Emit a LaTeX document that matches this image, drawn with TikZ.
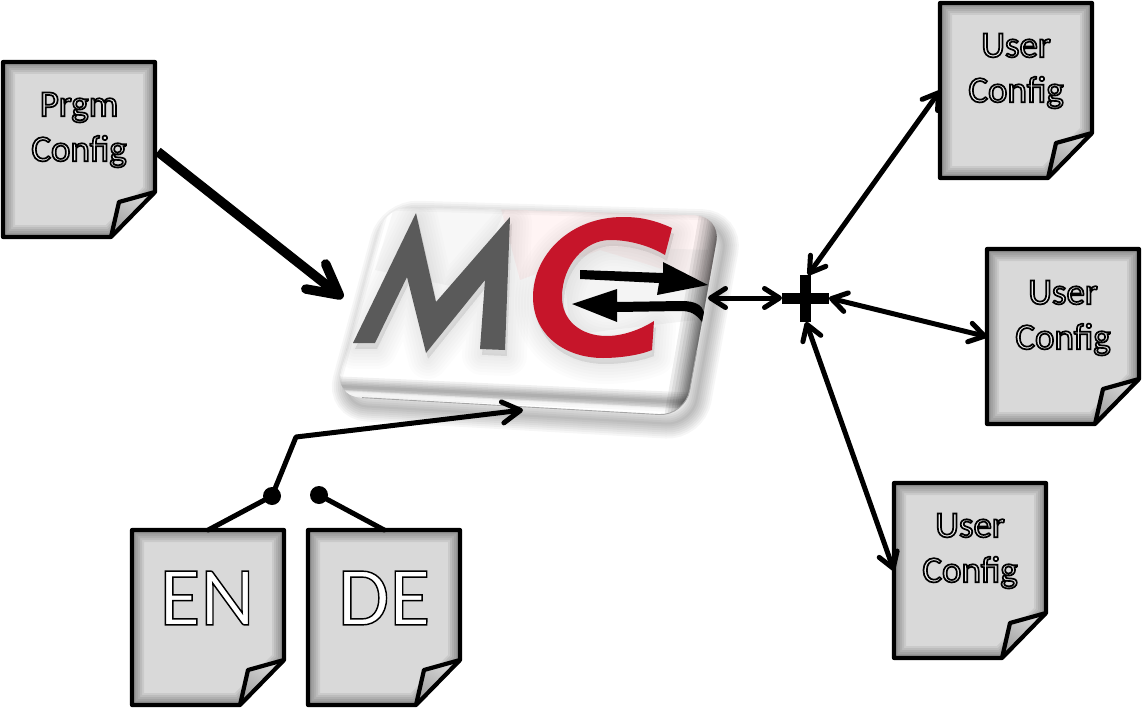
\documentclass[tikz,border=0pt]{standalone}
\usepackage{fontspec}
\setmainfont{Carlito}
\newfontfamily\outlfont[FakeBold=4.6]{Carlito}
\newfontfamily\outlbigfont[FakeBold=1.7]{Carlito}
\usetikzlibrary{arrows.meta,calc}
\definecolor{pagefill}{HTML}{D9D9D9}
\definecolor{mcgrey}{HTML}{5A5A5A}
\definecolor{mcred}{HTML}{C6152A}
\tikzset{
  pageline/.style={draw=black,line width=4.2pt,line join=round},
  smallhead/.tip={Straight Barb[length=15pt,width=19pt,round]},
  conn/.style={draw=black,line width=5pt,line cap=round,line join=round},
  both/.style={conn,{smallhead}-{smallhead}},
  oneway/.style={conn,-{Straight Barb[length=18pt,width=21pt,round]}},
  heavy/.style={draw=black,line width=9.5pt,shorten <=3pt,-{Straight Barb[length=30pt,width=32pt,round]}},
  pagelabel/.style={font=\outlfont\fontsize{37}{45}\selectfont,align=center,inner sep=0pt},
  biglabel/.style={font=\outlbigfont\fontsize{84}{84}\selectfont,inner sep=0pt},
  anchorbox/.style={minimum width=152pt,minimum height=175pt,inner sep=0pt},
  dot/.style={circle,fill=black,minimum size=18pt,inner sep=0pt},
}
\newcommand{\outl}[2]{\special{pdf:code 0 0 0 RG #1 rg}#2}
\newcommand{\docpage}[3]{%
  \begin{scope}[shift={(#2,#3)}]
    \begin{scope}
      \clip (0,0) -- (152,0) -- (152,130) -- (108,175) -- (0,175) -- cycle;
      \fill[pagefill] (0,0) rectangle (152,175);
      \foreach \w in {24,20,16,12,8}{
        \draw[black,opacity=.065,line width=\w pt] (0,0) -- (152,0) -- (152,130) -- (108,175) -- (0,175) -- cycle;
      }
    \end{scope}
    \shade[top color=gray!30,bottom color=gray!75,shading angle=-30] (152,130) -- (116,140) -- (108,175) -- cycle;
    \draw[pageline] (0,0) -- (152,0) -- (152,130) -- (108,175) -- (0,175) -- cycle;
    \draw[pageline] (152,130) -- (116,140) -- (108,175);
    \node[anchorbox,anchor=north west] (#1) at (0,0) {};
  \end{scope}}
\begin{document}
\begin{tikzpicture}[x=1pt,y=-1pt]
\useasboundingbox (0,0) rectangle (1143,709);
\fill[white] (0,0) rectangle (1143,709);

% logo
\def\mcouter{(385,206) -- (721,216) -- (685,416) -- (334,396) -- cycle}
\def\mcM{(353,343) -- (416,213) -- (436,302) -- (510,217) -- (505,350) -- (480,349) -- (485,280) -- (426,353) -- (407,277) -- (375,343) -- cycle}
\def\mcC{(672,228) .. controls (650,218) and (635,217) .. (623,217)
  .. controls (570,217) and (533,255) .. (533,297)
  .. controls (533,335) and (565,358) .. (603,358)
  .. controls (620,358) and (640,355) .. (652,350)
  -- (654,321)
  .. controls (640,330) and (622,336) .. (607,336)
  .. controls (580,336) and (562,320) .. (562,297)
  .. controls (562,265) and (585,240) .. (610,240)
  .. controls (630,240) and (650,246) .. (665,255) -- cycle}
\begin{scope}[shift={(7,9)}]
  \foreach \w in {30,26,22,18,14,10,6,2}{
    \draw[black,opacity=.035,line width=\w pt,rounded corners=26pt] \mcouter;
  }
\end{scope}
\begin{scope}
  \fill[white,rounded corners=26pt] \mcouter;
  \clip[rounded corners=26pt] \mcouter;
  % glass reflections
  \fill[red!40!white,opacity=.10] (500,205) -- (725,215) -- (715,285) -- (600,250) -- (520,280) -- cycle;
  \fill[gray!30,opacity=.20] (395,205) -- (505,210) -- (470,290) -- (375,270) -- cycle;
  % soft shadows below the letters
  \begin{scope}[shift={(2,6)}]
    \foreach \w in {40,34,28,22,16,10,4}{
      \draw[black,opacity=.013,line width=\w pt,line join=round,fill=black,fill opacity=.012] \mcM;
      \draw[black,opacity=.013,line width=\w pt,line join=round,fill=black,fill opacity=.012] \mcC;
    }
  \end{scope}
  \fill[gray!40,opacity=.20] (562,245) -- (708,250) -- (695,320) -- (570,335) -- cycle;
  % bevel, bottom
  \foreach \w in {20,16,12,9,6,3}{
    \draw[black,opacity=.06,line width=\w pt] (330,386) -- (700,403);
  }
  \foreach \w in {5,3}{
    \draw[white,opacity=.4,line width=\w pt] (330,392) -- (700,412);
  }
  % bevel, right side
  \foreach \w in {44,38,32,26,22,18,15,12,9,6,4,2}{
    \draw[black,opacity=.07,line width=\w pt] (723,205) -- (685,425);
  }
  % bevel, left and top
  \foreach \w in {10,6,3}{
    \draw[black,opacity=.03,line width=\w pt] (392,180) -- (330,405);
    \draw[black,opacity=.025,line width=\w pt] (370,205) -- (730,216);
  }
\end{scope}
\draw[gray!70,line width=.9pt,rounded corners=26pt] (362,397.6) -- (685,416) -- (697,350);
\fill[mcgrey] \mcM;
\fill[mcred] \mcC;
\fill[black] (580,270) -- (663,273) -- (663,262) -- (708,285) -- (657,295) -- (659,283) -- (580,279) -- cycle;
\fill[black] (702,322) .. controls (695,313) and (690,311) .. (680,311) -- (617,312) -- (617,322) -- (572,304) -- (617,289) -- (617,302) -- (682,301) .. controls (695,301) and (702,305) .. (704,312) -- cycle;
\node[minimum width=340pt,minimum height=200pt,inner sep=0pt] (mc) at (528,310) {};
\coordinate (mcL) at (343,298);
\coordinate (mcR) at (708,298);
\coordinate (mcB) at (523,410);

% pages
\docpage{prgm}{3}{62}
\docpage{ua}{940}{3}
\docpage{ub}{987}{249}
\docpage{uc}{894}{483}
\docpage{en}{132}{530}
\docpage{de}{308}{530}

\node[pagelabel] (lprgm) at (79,130) {\outl{.93 .93 .93}{Prgm\\Config}};
\node[pagelabel] (lua) at (1016,71) {\outl{.93 .93 .93}{User\\Config}};
\node[pagelabel] (lub) at (1063,318) {\outl{.93 .93 .93}{User\\Config}};
\node[pagelabel] (luc) at (970,551) {\outl{.93 .93 .93}{User\\Config}};
\node[biglabel] (len) at (207,598) {\outl{1 1 1}{EN}};
\node[biglabel] (lde) at (384,598) {\outl{1 1 1}{DE}};

% hub
\fill[black] (782,293) rectangle (829,304);
\fill[black] (800,275) rectangle (811,322);
\coordinate (hubT) at (808,275);
\coordinate (hubR) at (829,298);
\coordinate (hubB) at (806,322);
\coordinate (hubL) at (782,298);

% connectors
\draw[heavy] (prgm.east) -- (mcL);
\draw[both] (mcR) -- (hubL);
\draw[both] (hubT) -- (ua.west);
\draw[both] (hubR) -- (ub.west);
\draw[both] (hubB) -- (uc.west);

% switch
\node[dot] (swa) at (272,496) {};
\node[dot] (swb) at (319,495) {};
\coordinate (swk) at (296,437);
\draw[conn] (en.north) -- (swa.center);
\draw[conn] (de.north) -- (swb.center);
\draw[oneway] (swa.center) -- (swk) -- (mcB);
\end{tikzpicture}
\end{document}
